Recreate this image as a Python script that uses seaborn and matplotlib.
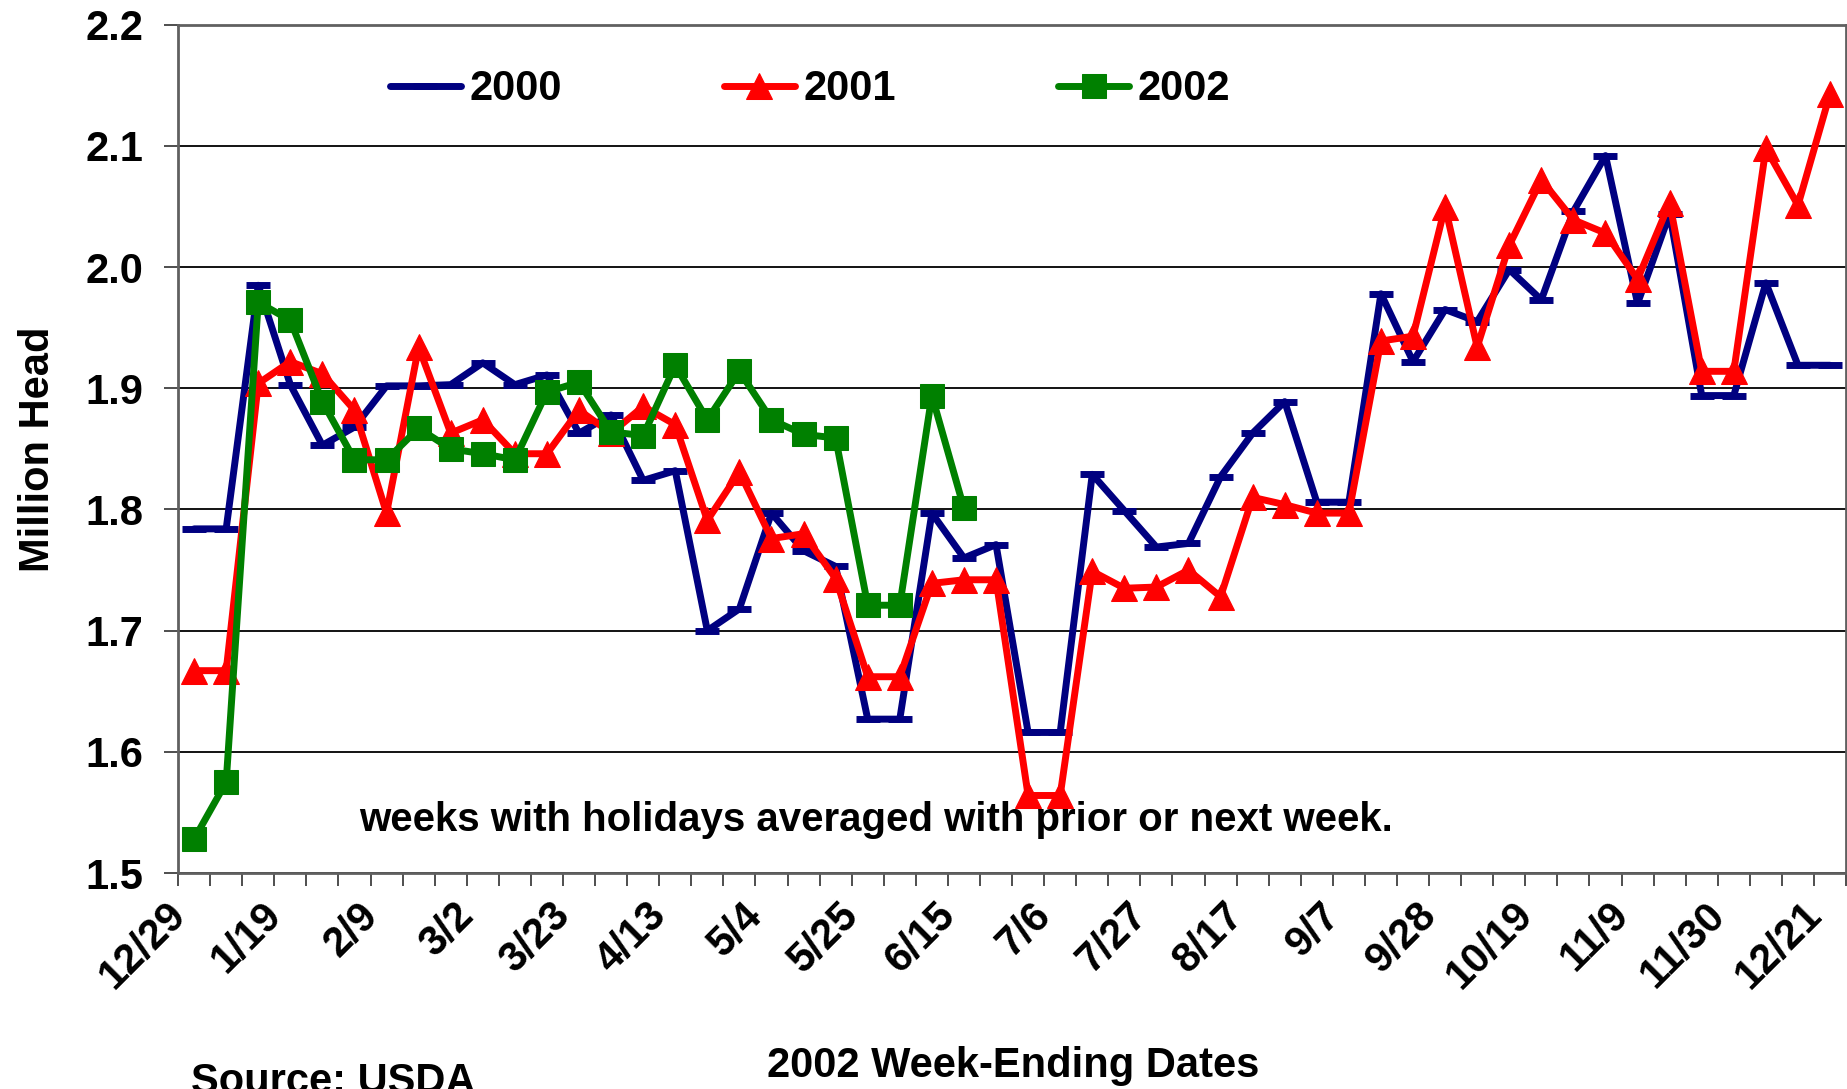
import matplotlib
matplotlib.use("Agg")
import matplotlib.pyplot as plt
import matplotlib.transforms as mtransforms
import numpy as np
import pandas as pd
import seaborn as sns

# week-ending dates (2002 calendar)
weeks = ["12/29", "1/5", "1/12", "1/19", "1/26", "2/2", "2/9", "2/16", "2/23",
         "3/2", "3/9", "3/16", "3/23", "3/30", "4/6", "4/13", "4/20", "4/27",
         "5/4", "5/11", "5/18", "5/25", "6/1", "6/8", "6/15", "6/22", "6/29",
         "7/6", "7/13", "7/20", "7/27", "8/3", "8/10", "8/17", "8/24", "8/31",
         "9/7", "9/14", "9/21", "9/28", "10/5", "10/12", "10/19", "10/26", "11/2",
         "11/9", "11/16", "11/23", "11/30", "12/7", "12/14", "12/21"]

y2000 = [1.784, 1.784, 1.985, 1.903, 1.853, 1.868, 1.902, 1.902, 1.903, 1.921,
         1.903, 1.911, 1.863, 1.878, 1.824, 1.832, 1.700, 1.718, 1.797, 1.766,
         1.753, 1.627, 1.627, 1.797, 1.760, 1.771, 1.616, 1.616, 1.829, 1.799,
         1.769, 1.772, 1.827, 1.863, 1.889, 1.806, 1.806, 1.978, 1.922, 1.965,
         1.955, 1.998, 1.973, 2.046, 2.092, 1.970, 2.044, 1.894, 1.894, 1.987,
         1.919, 1.919]

y2001 = [1.667, 1.667, 1.904, 1.922, 1.912, 1.882, 1.797, 1.934, 1.863, 1.874,
         1.846, 1.846, 1.882, 1.863, 1.885, 1.870, 1.791, 1.831, 1.776, 1.780,
         1.743, 1.662, 1.662, 1.739, 1.742, 1.742, 1.564, 1.564, 1.749, 1.735,
         1.736, 1.750, 1.728, 1.810, 1.804, 1.797, 1.797, 1.939, 1.943, 2.050,
         1.934, 2.018, 2.072, 2.039, 2.028, 1.990, 2.053, 1.914, 1.914, 2.098,
         2.051, 2.143]

y2002 = [1.528, 1.575, 1.971, 1.956, 1.889, 1.841, 1.841, 1.867, 1.850, 1.846,
         1.841, 1.897, 1.905, 1.864, 1.861, 1.919, 1.874, 1.914, 1.874, 1.862,
         1.859, 1.721, 1.721, 1.894, 1.801]

sns.set_style("white")
plt.rcParams['font.family'] = ['Liberation Sans', 'DejaVu Sans']
plt.rcParams['font.weight'] = 'bold'
plt.rcParams['text.color'] = 'black'
plt.rcParams['axes.labelcolor'] = 'black'
plt.rcParams['xtick.color'] = 'black'
plt.rcParams['ytick.color'] = 'black'

fig = plt.figure(figsize=(18.47, 10.89), dpi=100)
ax = fig.add_axes([0.0964, 0.1983, 0.9031, 0.779])

x_all = np.arange(len(weeks))
df00 = pd.DataFrame({'week': x_all, 'value': y2000})
df01 = pd.DataFrame({'week': x_all, 'value': y2001})
df02 = pd.DataFrame({'week': x_all[:len(y2002)], 'value': y2002})

sns.lineplot(data=df00, x='week', y='value', ax=ax, color='#000080', lw=5,
             marker='_', markersize=17, mew=5, mec='#000080', label='2000', sort=False)
sns.lineplot(data=df01, x='week', y='value', ax=ax, color='#ff0000', lw=5,
             marker='^', markersize=19, mec='#ff0000', label='2001', sort=False)
sns.lineplot(data=df02, x='week', y='value', ax=ax, color='#008000', lw=5,
             marker='s', markersize=17, mec='#008000', label='2002', sort=False)

ax.set_xlim(-0.5, len(weeks) - 0.5)
ax.set_ylim(1.5, 2.2)
ax.set_yticks(np.arange(1.5, 2.21, 0.1))
ax.set_yticklabels([f"{v:.1f}" for v in np.arange(1.5, 2.21, 0.1)])
ax.yaxis.grid(True, color='black', lw=1.3)
ax.set_axisbelow(True)

ax.set_xticks(x_all[::3])
ax.set_xticklabels(weeks[::3], rotation=45, ha='right', va='center',
                   rotation_mode='anchor')
ax.set_xticks(np.arange(-0.5, len(weeks), 1), minor=True)
ax.tick_params(axis='x', which='major', length=0, pad=26, labelsize=30)
ax.tick_params(axis='x', which='minor', length=9, width=1.3, color='#404040',
               direction='out', bottom=True)
ax.tick_params(axis='y', length=10, width=1.3, color='#404040', direction='out',
               left=True, pad=15, labelsize=30)
shift = mtransforms.ScaledTranslation(-0.15, 0, fig.dpi_scale_trans)
for lab in ax.get_xticklabels():
    lab.set_transform(lab.get_transform() + shift)

for side in ['left', 'bottom', 'right', 'top']:
    ax.spines[side].set_color('#606060')
    ax.spines[side].set_linewidth(2)

ax.set_xlabel("")
ax.set_ylabel("Million Head", fontsize=30, fontweight='bold', labelpad=20)

ax.text(5.15, 1.544, "weeks with holidays averaged with prior or next week.",
        ha='left', va='center', fontsize=29, fontweight='bold')

fig.text(0.5485, 0.021, "2002 Week-Ending Dates", ha='center', va='center',
         fontsize=30, fontweight='bold')
fig.text(0.1034, 0.006, "Source: USDA", ha='left', va='center',
         fontsize=30, fontweight='bold')

ax.legend(loc='center', bbox_to_anchor=(0.4385, 0.918),
          bbox_transform=fig.transFigure, ncol=3, frameon=False,
          fontsize=30, handlelength=1.7, handletextpad=0.2, columnspacing=3.9,
          numpoints=1)

fig.savefig('out.png', dpi=100)
